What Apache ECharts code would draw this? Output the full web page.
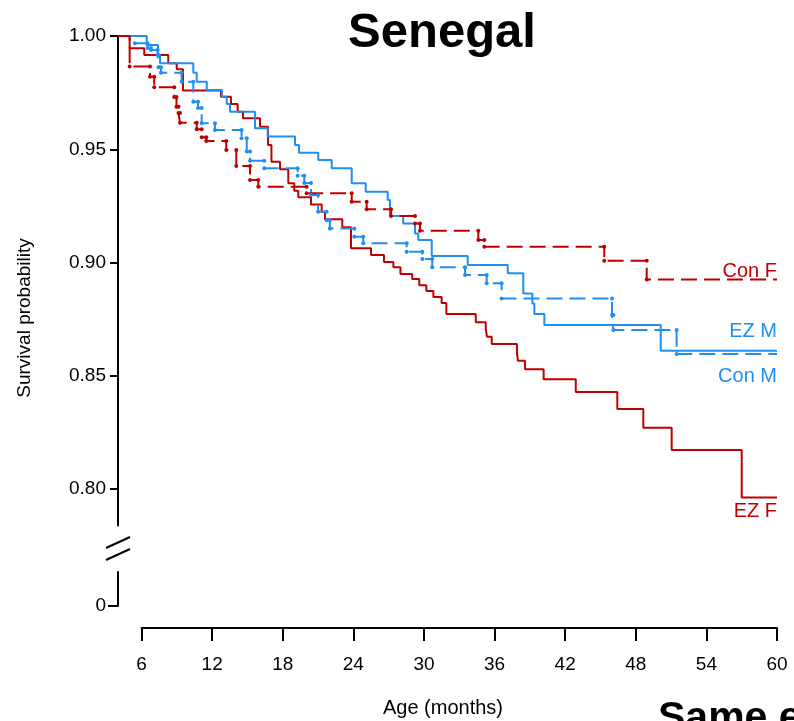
<!DOCTYPE html>
<html>
<head>
<meta charset="utf-8">
<script src="https://cdn.jsdelivr.net/npm/echarts@6/dist/echarts.min.js"></script>
<style>
  html, body { margin: 0; padding: 0; background: #ffffff; }
  #chart { width: 794px; height: 721px; }
</style>
</head>
<body>
<div id="chart"></div>
<script>
// Axis ticks
const xTicks = [6, 12, 18, 24, 30, 36, 42, 48, 54, 60];
const yTicks = [0.80, 0.85, 0.90, 0.95, 1.00];

// Kaplan-Meier steps: event time (months) and survival after the drop
const ezF_t = [4.99, 6.23, 8.27, 8.99, 9.52, 12.75, 13.6, 14.17, 14.62, 16.07, 16.75, 17.04, 17.77, 18.47, 18.98, 19.32, 20.4, 21.31, 21.59, 23.06, 23.8, 25.5, 26.6, 27.4, 28.0, 29.0, 29.6, 30.2, 30.8, 31.5, 31.9, 34.4, 35.25, 35.36, 35.76, 37.9, 37.99, 38.59, 40.17, 42.9, 46.43, 48.64, 51.05, 57.0];
const ezF_s = [0.9946, 0.9916, 0.9880, 0.9853, 0.9759, 0.9732, 0.9700, 0.9666, 0.9637, 0.9600, 0.9519, 0.9445, 0.9412, 0.9350, 0.9317, 0.9288, 0.9257, 0.9225, 0.9191, 0.9156, 0.9063, 0.9034, 0.9003, 0.8980, 0.8950, 0.8928, 0.8900, 0.8875, 0.8848, 0.8822, 0.8773, 0.8737, 0.8706, 0.8673, 0.8641, 0.8600, 0.8567, 0.8529, 0.8485, 0.8429, 0.8354, 0.8271, 0.8173, 0.7964];

const conF_t = [4.99, 6.72, 7.08, 8.78, 8.97, 9.14, 9.27, 10.69, 11.11, 11.5, 13.2, 14.05, 15.22, 15.92, 20.03, 23.86, 25.13, 27.2, 29.24, 29.66, 34.62, 35.13, 45.32, 48.93];
const conF_s = [0.9865, 0.9820, 0.9774, 0.9731, 0.9688, 0.9660, 0.9617, 0.9588, 0.9553, 0.9537, 0.9497, 0.9426, 0.9365, 0.9335, 0.9306, 0.9269, 0.9235, 0.9206, 0.9173, 0.9141, 0.9100, 0.9070, 0.9008, 0.8926];

const ezM_t = [6.44, 7.4, 7.57, 10.4, 10.69, 11.54, 12.84, 13.24, 13.52, 15.64, 16.72, 19.04, 19.38, 21.02, 22.16, 23.86, 25.05, 26.92, 27.11, 28.24, 29.24, 29.52, 30.66, 33.72, 37.12, 38.44, 39.21, 39.38, 40.23, 50.12];
const ezM_s = [0.9960, 0.9916, 0.9880, 0.9838, 0.9798, 0.9762, 0.9732, 0.9700, 0.9666, 0.9593, 0.9556, 0.9519, 0.9485, 0.9453, 0.9416, 0.9350, 0.9313, 0.9276, 0.9206, 0.9173, 0.9129, 0.9100, 0.9029, 0.8989, 0.8953, 0.8864, 0.8820, 0.8773, 0.8725, 0.8611];

const conM_t = [5.44, 6.5, 6.8, 7.37, 7.45, 7.65, 9.41, 10.4, 10.8, 11.11, 12.24, 14.5, 14.94, 15.22, 16.43, 19.27, 19.83, 20.4, 21.0, 21.73, 22.0, 24.08, 24.84, 28.53, 29.86, 30.7, 33.49, 35.33, 36.6, 45.98, 46.1, 51.47];
const conM_s = [0.9968, 0.9947, 0.9938, 0.9916, 0.9862, 0.9838, 0.9798, 0.9710, 0.9682, 0.9615, 0.9585, 0.9549, 0.9490, 0.9450, 0.9416, 0.9383, 0.9351, 0.9298, 0.9225, 0.9187, 0.9151, 0.9114, 0.9085, 0.9048, 0.9016, 0.8980, 0.8945, 0.8909, 0.8842, 0.8769, 0.8703, 0.8597];

const seriesNames = ['Con F', 'EZ F', 'Con M', 'EZ M'];

const RED = '#c00000';
const BLUE = '#1f8ef5';
const T0 = 4, T1 = 60;

// Turn step events into the vertex list of a right-continuous step curve.
// With marks on, every corner of a drop gets a small dot, except the very first corner.
function stepVertices(times, surv, marks) {
  const pts = [{ value: [T0, 1], symbol: 'none' }];
  let prev = 1;
  for (let i = 0; i < times.length; i++) {
    const top = { value: [times[i], prev] };
    const bottom = { value: [times[i], surv[i]] };
    if (!marks || i === 0) top.symbol = 'none';
    if (!marks) bottom.symbol = 'none';
    pts.push(top, bottom);
    prev = surv[i];
  }
  pts.push({ value: [T1, prev], symbol: 'none' });
  return pts;
}

function curve(name, times, surv, color, dashed) {
  return {
    name: name,
    type: 'line',
    xAxisIndex: 0,
    yAxisIndex: 0,
    data: stepVertices(times, surv, dashed),
    symbol: 'circle',
    symbolSize: 4,
    showAllSymbol: true,
    itemStyle: { color: color },
    lineStyle: { color: color, width: 2, type: dashed ? [16, 7] : 'solid' },
    emphasis: { disabled: true },
    animation: false,
    z: dashed ? 3 : 2
  };
}

const chart = echarts.init(document.getElementById('chart'), null, { renderer: 'canvas' });

const FONT = 'Liberation Sans, Arial, sans-serif';

chart.setOption({
  backgroundColor: '#ffffff',
  animation: false,
  textStyle: { fontFamily: FONT },
  grid: [
    { left: 118, right: 17, top: 36, height: 489.5 },
    { left: 118, right: 17, top: 572, height: 34 },
    { left: 141.54, right: 17, top: 627, height: 1 }
  ],
  xAxis: [
    { gridIndex: 0, type: 'value', min: T0, max: T1, show: false },
    { gridIndex: 1, type: 'value', min: T0, max: T1, show: false },
    {
      gridIndex: 2, type: 'value', min: 6, max: 60, interval: 6, position: 'bottom',
      axisLine: { show: true, lineStyle: { color: '#000', width: 2 } },
      axisTick: { show: true, length: 13, lineStyle: { color: '#000', width: 2 } },
      axisLabel: { color: '#000', fontSize: 19, margin: 27, fontFamily: FONT },
      splitLine: { show: false }
    }
  ],
  yAxis: [
    {
      gridIndex: 0, type: 'value', min: 0.784, max: 1.0,
      axisLine: { show: true, lineStyle: { color: '#000', width: 2 } },
      axisTick: { show: true, length: 8, customValues: yTicks, lineStyle: { color: '#000', width: 2 } },
      axisLabel: { show: true, customValues: yTicks, color: '#000', fontSize: 19, margin: 12, fontFamily: FONT,
                   formatter: v => v.toFixed(2) },
      splitLine: { show: false }
    },
    {
      gridIndex: 1, type: 'value', min: 0, max: 1,
      axisLine: { show: true, lineStyle: { color: '#000', width: 2 } },
      axisTick: { show: true, length: 10, customValues: [0], lineStyle: { color: '#000', width: 2 } },
      axisLabel: { show: true, customValues: [0], color: '#000', fontSize: 19, margin: 12, fontFamily: FONT },
      splitLine: { show: false }
    },
    { gridIndex: 2, type: 'value', show: false }
  ],
  series: [
    curve(seriesNames[1], ezF_t, ezF_s, RED, false),
    curve(seriesNames[3], ezM_t, ezM_s, BLUE, false),
    curve(seriesNames[2], conM_t, conM_s, BLUE, true),
    curve(seriesNames[0], conF_t, conF_s, RED, true)
  ],
  graphic: [
    // axis break marks
    { type: 'line', shape: { x1: 106, y1: 548, x2: 130, y2: 537 }, style: { stroke: '#000', lineWidth: 2 } },
    { type: 'line', shape: { x1: 106, y1: 560, x2: 130, y2: 549 }, style: { stroke: '#000', lineWidth: 2 } },
    // titles
    { type: 'text', x: 442, y: 33, style: { text: 'Senegal', font: 'bold 49px ' + FONT, fill: '#000', textAlign: 'center', textVerticalAlign: 'middle' } },
    { type: 'text', x: 658, y: 719, style: { text: 'Same e', font: 'bold 41px ' + FONT, fill: '#000', textAlign: 'left', textVerticalAlign: 'middle' } },
    // axis names
    { type: 'text', x: 443, y: 708, style: { text: 'Age (months)', font: '20px ' + FONT, fill: '#000', textAlign: 'center', textVerticalAlign: 'middle' } },
    { type: 'text', x: 25, y: 318, rotation: Math.PI / 2, style: { text: 'Survival probability', font: '19px ' + FONT, fill: '#000', textAlign: 'center', textVerticalAlign: 'middle' } },
    // series labels
    { type: 'text', x: 777, y: 271, style: { text: seriesNames[0], font: '20px ' + FONT, fill: RED, textAlign: 'right', textVerticalAlign: 'middle' } },
    { type: 'text', x: 777, y: 331, style: { text: seriesNames[3], font: '20px ' + FONT, fill: BLUE, textAlign: 'right', textVerticalAlign: 'middle' } },
    { type: 'text', x: 777, y: 376, style: { text: seriesNames[2], font: '20px ' + FONT, fill: BLUE, textAlign: 'right', textVerticalAlign: 'middle' } },
    { type: 'text', x: 777, y: 511, style: { text: seriesNames[1], font: '20px ' + FONT, fill: RED, textAlign: 'right', textVerticalAlign: 'middle' } }
  ]
});
</script>
</body>
</html>
